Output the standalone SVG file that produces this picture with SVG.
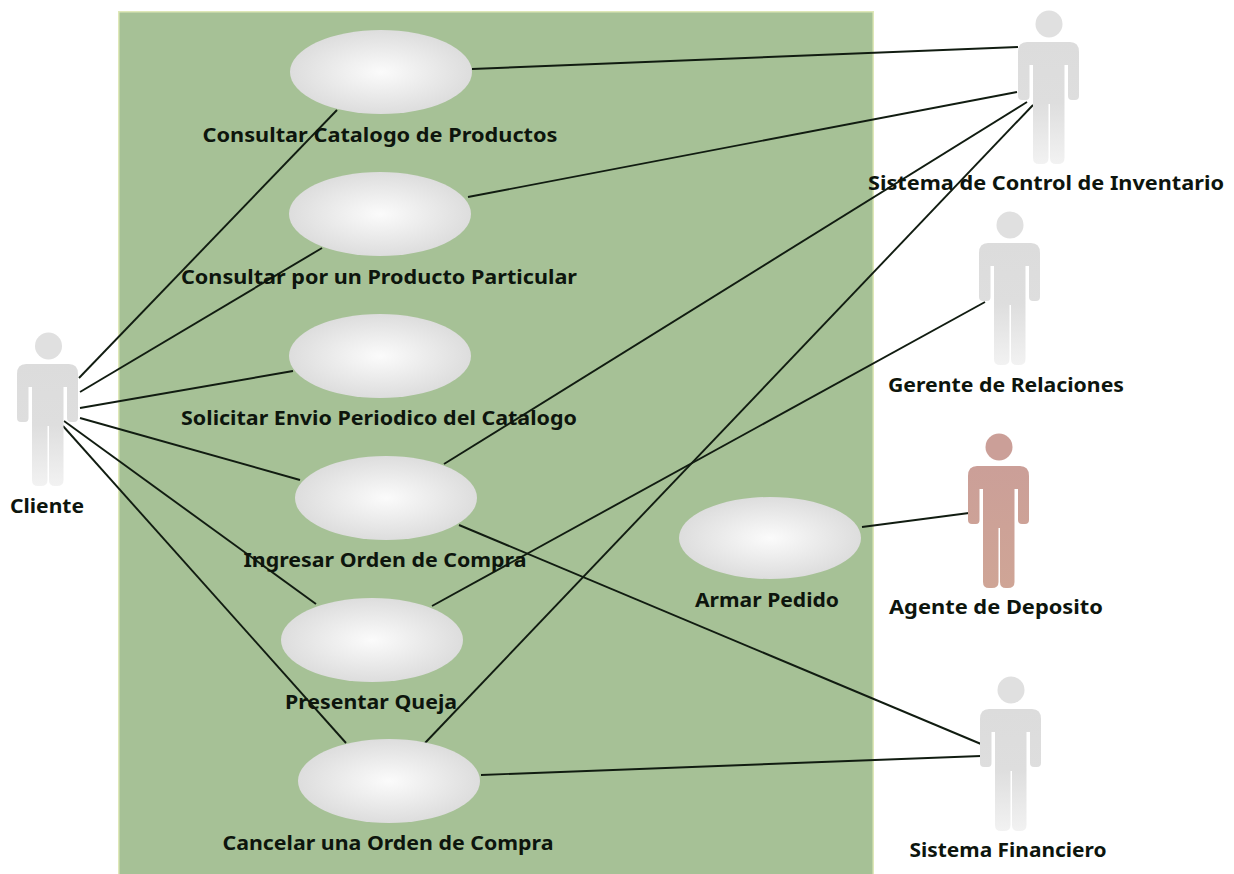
<svg xmlns="http://www.w3.org/2000/svg" width="1234" height="874" viewBox="0 0 1234 874">
<style>
.uc{fill:url(#ucg)}
.lbl{font-family:"Noto Sans","DejaVu Sans",sans-serif;font-size:19px;font-weight:700;fill:#0d150d;text-anchor:middle}
#connectors line{stroke:#111c11;stroke-width:1.9}
.head{fill:#e0e0e0}
.body{fill:url(#grayg)}
.rhead{fill:#cb9f98}
.rbody{fill:url(#redg)}
</style>
<defs>
<radialGradient id="ucg" cx="0.5" cy="0.5" r="0.5">
<stop offset="0" stop-color="#fbfbfb"/><stop offset="1" stop-color="#dddddd"/>
</radialGradient>
<linearGradient id="grayg" x1="0" y1="0" x2="0" y2="1">
<stop offset="0" stop-color="#dcdcdc"/><stop offset="0.5" stop-color="#dedede"/><stop offset="1" stop-color="#f2f2f2"/>
</linearGradient>
<linearGradient id="redg" x1="0" y1="0" x2="0" y2="1">
<stop offset="0" stop-color="#cb9f98"/><stop offset="1" stop-color="#cfa596"/>
</linearGradient>
<path id="actor-body" d="M9 32H52Q61 32 61 42V86Q61 90 57 90H54Q50 90 50 86V55H46.500V148Q46.500 154 40 154H38Q32 154 32 148V94H30.500V148Q30.500 154 24 154H21Q15 154 15 148V55H11.500V86Q11.500 90 8 90H4Q0 90 0 86V42Q0 32 9 32Z"/>
</defs>
<rect width="1234" height="874" fill="#fff"/>
<rect x="118" y="11" width="756" height="864" fill="#dfe8b8"/>
<rect id="system" x="119.500" y="12.500" width="753" height="862" fill="#a6c196"/>
<g id="connectors">
<line x1="79" y1="378" x2="337" y2="110"/>
<line x1="80" y1="392" x2="322" y2="248"/>
<line x1="80" y1="408" x2="293" y2="371"/>
<line x1="80" y1="418" x2="300" y2="480"/>
<line x1="64" y1="421" x2="316" y2="604"/>
<line x1="63" y1="426" x2="346" y2="743"/>
<line x1="472" y1="69" x2="1018" y2="47"/>
<line x1="468" y1="197" x2="1017" y2="92"/>
<line x1="444" y1="464" x2="1027" y2="102"/>
<line x1="425" y1="743" x2="1033" y2="105"/>
<line x1="432" y1="606" x2="985" y2="302"/>
<line x1="862" y1="527" x2="969" y2="513"/>
<line x1="459" y1="525" x2="981" y2="744"/>
<line x1="481" y1="775" x2="981" y2="756"/>
</g>
<g id="uc1"><ellipse class="uc" cx="381" cy="72" rx="91" ry="42"/><text class="lbl" x="380" y="142" textLength="355" lengthAdjust="spacingAndGlyphs">Consultar Catalogo de Productos</text></g>
<g id="uc2"><ellipse class="uc" cx="380" cy="214" rx="91" ry="42"/><text class="lbl" x="379" y="284" textLength="396" lengthAdjust="spacingAndGlyphs">Consultar por un Producto Particular</text></g>
<g id="uc3"><ellipse class="uc" cx="380" cy="356" rx="91" ry="42"/><text class="lbl" x="379" y="425" textLength="396" lengthAdjust="spacingAndGlyphs">Solicitar Envio Periodico del Catalogo</text></g>
<g id="uc4"><ellipse class="uc" cx="386" cy="498" rx="91" ry="42"/><text class="lbl" x="385" y="567" textLength="283" lengthAdjust="spacingAndGlyphs">Ingresar Orden de Compra</text></g>
<g id="uc5"><ellipse class="uc" cx="372" cy="640" rx="91" ry="42"/><text class="lbl" x="371" y="709" textLength="172" lengthAdjust="spacingAndGlyphs">Presentar Queja</text></g>
<g id="uc6"><ellipse class="uc" cx="389" cy="781" rx="91" ry="42"/><text class="lbl" x="388" y="850" textLength="331" lengthAdjust="spacingAndGlyphs">Cancelar una Orden de Compra</text></g>
<g id="uc7"><ellipse class="uc" cx="770" cy="538" rx="91" ry="41"/><text class="lbl" x="767" y="607" textLength="144" lengthAdjust="spacingAndGlyphs">Armar Pedido</text></g>
<g id="cliente"><circle class="head" cx="48.500" cy="346" r="13.500"/><use href="#actor-body" x="17" y="332" class="body"/><text class="lbl" x="47" y="513" textLength="74" lengthAdjust="spacingAndGlyphs">Cliente</text></g>
<g id="inventario"><circle class="head" cx="1049" cy="24" r="13.500"/><use href="#actor-body" x="1018" y="10" class="body"/><text class="lbl" x="1046" y="190" textLength="356" lengthAdjust="spacingAndGlyphs">Sistema de Control de Inventario</text></g>
<g id="gerente"><circle class="head" cx="1010" cy="225" r="13.500"/><use href="#actor-body" x="979" y="211" class="body"/><text class="lbl" x="1006" y="392" textLength="236" lengthAdjust="spacingAndGlyphs">Gerente de Relaciones</text></g>
<g id="agente"><circle class="rhead" cx="999" cy="447" r="13.500"/><use href="#actor-body" x="968" y="434" class="rbody"/><text class="lbl" x="996" y="614" textLength="214" lengthAdjust="spacingAndGlyphs">Agente de Deposito</text></g>
<g id="financiero"><circle class="head" cx="1011" cy="690" r="13.500"/><use href="#actor-body" x="980" y="677" class="body"/><text class="lbl" x="1008" y="857" textLength="197" lengthAdjust="spacingAndGlyphs">Sistema Financiero</text></g>
</svg>
